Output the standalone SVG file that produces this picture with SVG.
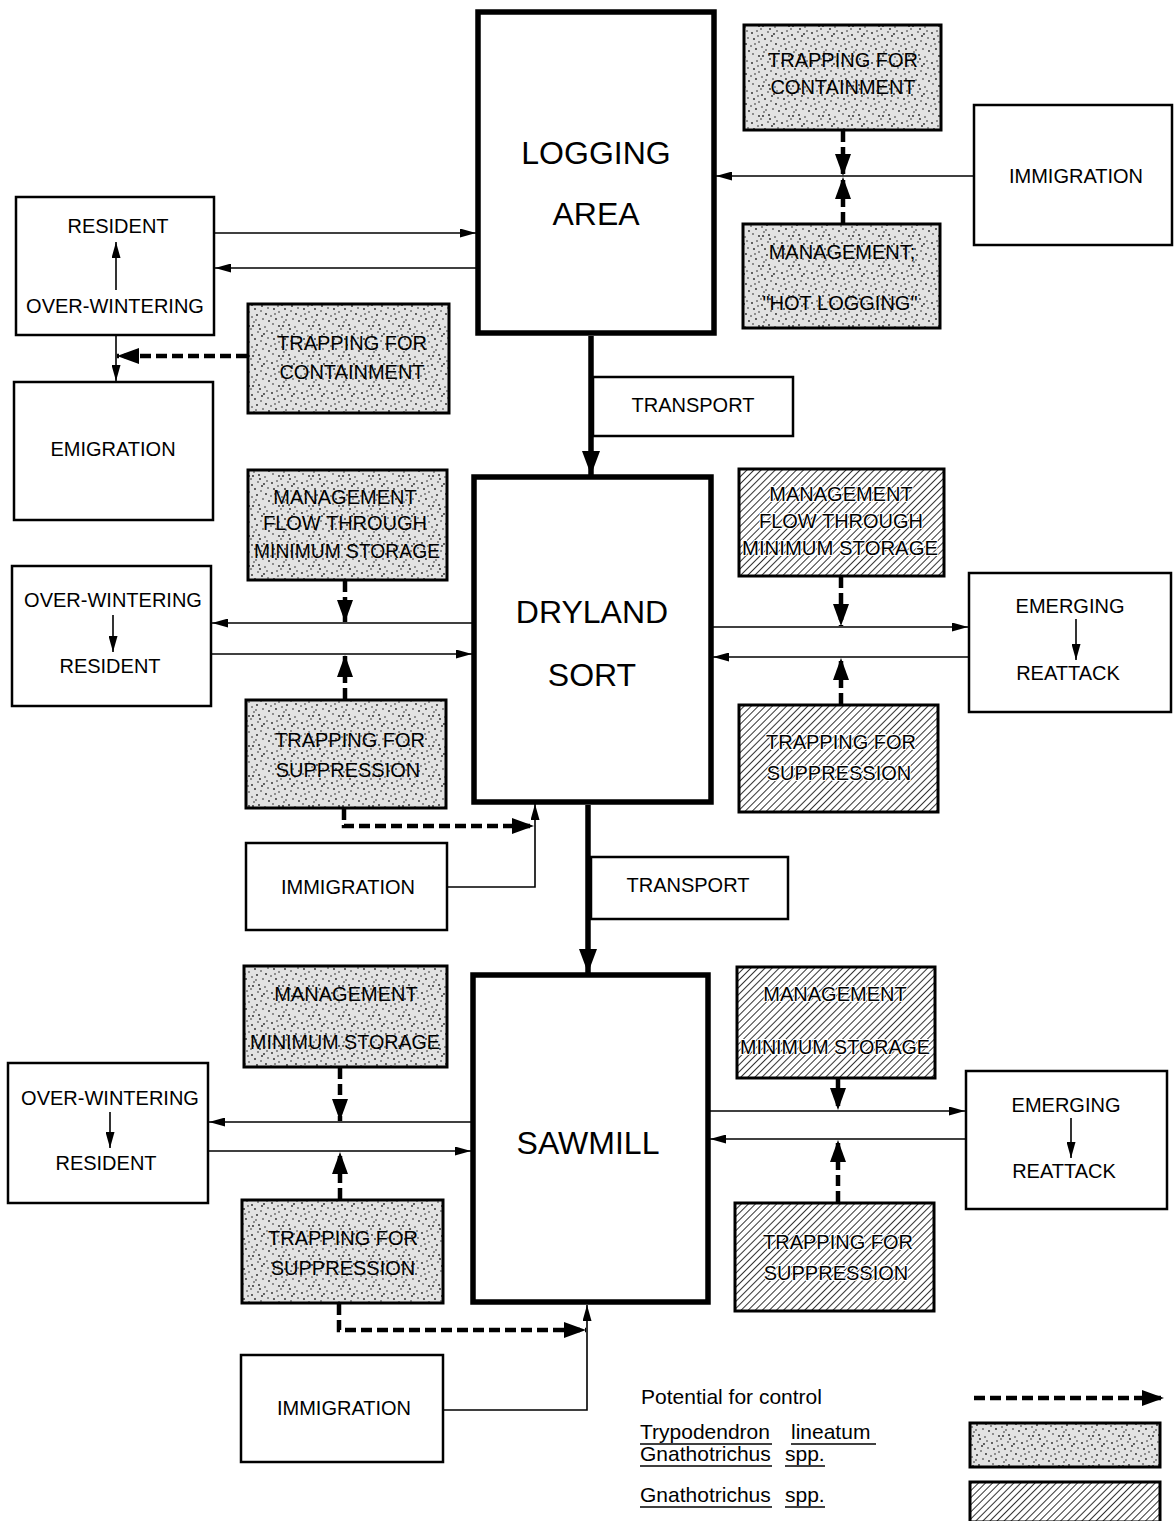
<svg xmlns="http://www.w3.org/2000/svg" width="1176" height="1521" viewBox="0 0 1176 1521">
<style>
.box{fill:#fff;stroke:#000;stroke-width:2.5}
.main{fill:#fff;stroke:#000;stroke-width:5.5}
.stip{fill:url(#stipple);stroke:#000;stroke-width:3}
.hatch{fill:url(#hatch);stroke:#000;stroke-width:3}
.t{font-family:"Liberation Sans",Arial,sans-serif;font-size:20px;fill:#000;text-anchor:middle}
.h{stroke:#fff;stroke-width:2;paint-order:stroke;stroke-linejoin:round}
.big{font-family:"Liberation Sans",Arial,sans-serif;font-size:32px;fill:#000;text-anchor:middle}
.leg{font-family:"Liberation Sans",Arial,sans-serif;font-size:21px;fill:#000}
.thin{stroke:#000;stroke-width:1.6;fill:none}
.dash{stroke:#000;stroke-width:4.5;fill:none;stroke-dasharray:11 5}
.thick{stroke:#000;stroke-width:5.5;fill:none}
.ul{stroke:#000;stroke-width:1.6}
</style>
<defs>
<pattern id="stipple" patternUnits="userSpaceOnUse" width="30" height="30">
<rect width="30" height="30" fill="#e2e2e2"/>
<g fill="#222">
<circle cx="2" cy="3" r="0.9"/><circle cx="7" cy="1" r="0.8"/><circle cx="12" cy="5" r="0.9"/><circle cx="18" cy="2" r="0.8"/>
<circle cx="24" cy="4" r="0.9"/><circle cx="28" cy="8" r="0.8"/><circle cx="4" cy="9" r="0.9"/><circle cx="9" cy="12" r="0.8"/>
<circle cx="15" cy="9" r="0.9"/><circle cx="21" cy="11" r="0.8"/><circle cx="26" cy="14" r="0.9"/><circle cx="1" cy="16" r="0.8"/>
<circle cx="6" cy="19" r="0.9"/><circle cx="12" cy="17" r="0.8"/><circle cx="17" cy="15" r="0.9"/><circle cx="23" cy="19" r="0.8"/>
<circle cx="29" cy="21" r="0.9"/><circle cx="3" cy="24" r="0.8"/><circle cx="9" cy="26" r="0.9"/><circle cx="14" cy="22" r="0.8"/>
<circle cx="19" cy="25" r="0.9"/><circle cx="25" cy="27" r="0.8"/><circle cx="27" cy="1" r="0.8"/><circle cx="11" cy="29" r="0.8"/>
<circle cx="20" cy="29" r="0.9"/><circle cx="5" cy="14" r="0.8"/><circle cx="16" cy="20" r="0.8"/><circle cx="22" cy="6" r="0.9"/>
<circle cx="8" cy="6" r="0.8"/><circle cx="13" cy="26" r="0.9"/>
</g>
</pattern>
<pattern id="hatch" patternUnits="userSpaceOnUse" width="5" height="5" patternTransform="rotate(45)">
<rect width="5" height="5" fill="#fff"/>
<line x1="0" y1="0" x2="0" y2="5" stroke="#000" stroke-width="1.6"/>
</pattern>
<marker id="a" markerUnits="userSpaceOnUse" markerWidth="16" markerHeight="9" refX="16" refY="4.5" orient="auto">
<path d="M0,0 L16,4.5 L0,9 z" fill="#000"/>
</marker>
<marker id="d" markerUnits="userSpaceOnUse" markerWidth="22" markerHeight="16" refX="22" refY="8" orient="auto">
<path d="M0,0 L22,8 L0,16 z" fill="#000"/>
</marker>
<marker id="k" markerUnits="userSpaceOnUse" markerWidth="24" markerHeight="18" refX="24" refY="9" orient="auto">
<path d="M0,0 L24,9 L0,18 z" fill="#000"/>
</marker>
</defs>
<rect width="1176" height="1521" fill="#fff"/>

<g id="connectors">
<line class="thin" x1="974" y1="176" x2="716" y2="176" marker-end="url(#a)"/>
<line class="dash" x1="843" y1="131" x2="843" y2="176" marker-end="url(#d)"/>
<line class="dash" x1="843" y1="223" x2="843" y2="177" marker-end="url(#d)"/>
<line class="thin" x1="215" y1="233" x2="476" y2="233" marker-end="url(#a)"/>
<line class="thin" x1="476" y1="268" x2="215" y2="268" marker-end="url(#a)"/>
<line class="thin" x1="116" y1="336" x2="116" y2="381" marker-end="url(#a)"/>
<line class="dash" x1="247" y1="356" x2="117" y2="356" marker-end="url(#d)"/>
<line class="thick" x1="591" y1="336" x2="591" y2="475" marker-end="url(#k)"/>

<line class="thin" x1="472" y1="623" x2="212" y2="623" marker-end="url(#a)"/>
<line class="thin" x1="212" y1="654" x2="472" y2="654" marker-end="url(#a)"/>
<line class="dash" x1="345" y1="581" x2="345" y2="622" marker-end="url(#d)"/>
<line class="dash" x1="345" y1="699" x2="345" y2="655" marker-end="url(#d)"/>
<path class="dash" d="M344,809 V826 H534" marker-end="url(#d)"/>
<path class="thin" d="M447,887 H535 V804" marker-end="url(#a)"/>
<line class="thin" x1="713" y1="627" x2="968" y2="627" marker-end="url(#a)"/>
<line class="thin" x1="968" y1="657" x2="713" y2="657" marker-end="url(#a)"/>
<line class="dash" x1="841" y1="577" x2="841" y2="626" marker-end="url(#d)"/>
<line class="dash" x1="841" y1="704" x2="841" y2="658" marker-end="url(#d)"/>
<line class="thick" x1="588" y1="805" x2="588" y2="973" marker-end="url(#k)"/>

<line class="thin" x1="471" y1="1122" x2="209" y2="1122" marker-end="url(#a)"/>
<line class="thin" x1="209" y1="1151" x2="471" y2="1151" marker-end="url(#a)"/>
<line class="dash" x1="340" y1="1068" x2="340" y2="1121" marker-end="url(#d)"/>
<line class="dash" x1="340" y1="1199" x2="340" y2="1152" marker-end="url(#d)"/>
<path class="dash" d="M339,1304 V1330 H586" marker-end="url(#d)"/>
<path class="thin" d="M443,1410 H587 V1305" marker-end="url(#a)"/>
<line class="thin" x1="710" y1="1111" x2="965" y2="1111" marker-end="url(#a)"/>
<line class="thin" x1="965" y1="1139" x2="710" y2="1139" marker-end="url(#a)"/>
<line class="dash" x1="838" y1="1079" x2="838" y2="1110" marker-end="url(#d)"/>
<line class="dash" x1="838" y1="1202" x2="838" y2="1140" marker-end="url(#d)"/>
</g>

<g id="logging-area"><rect class="main" x="478" y="12" width="236" height="321"/>
<text class="big" x="596" y="164">LOGGING</text><text class="big" x="596" y="225">AREA</text></g>
<g id="trap-cont-top"><rect class="stip" x="744" y="25" width="197" height="105"/>
<text class="t" x="843" y="67">TRAPPING FOR</text><text class="t" x="843" y="94">CONTAINMENT</text></g>
<g id="mgmt-hot"><rect class="stip" x="743" y="224" width="197" height="104"/>
<text class="t" x="842" y="259">MANAGEMENT;</text><text class="t" x="840" y="310">"HOT LOGGING"</text></g>
<g id="immig-top"><rect class="box" x="974" y="105" width="198" height="140"/>
<text class="t" x="1076" y="183">IMMIGRATION</text></g>
<g id="resident-1"><rect class="box" x="16" y="197" width="198" height="138"/>
<text class="t" x="118" y="233">RESIDENT</text>
<line class="thin" x1="116" y1="290" x2="116" y2="242" marker-end="url(#a)"/>
<text class="t" x="115" y="313">OVER-WINTERING</text></g>
<g id="trap-cont-left"><rect class="stip" x="248" y="304" width="201" height="109"/>
<text class="t" x="352" y="350">TRAPPING FOR</text><text class="t" x="352" y="379">CONTAINMENT</text></g>
<g id="emigration"><rect class="box" x="14" y="382" width="199" height="138"/>
<text class="t" x="113" y="456">EMIGRATION</text></g>
<g id="transport-1"><rect class="box" x="593" y="377" width="200" height="59"/>
<text class="t" x="693" y="412">TRANSPORT</text></g>

<g id="dryland-sort"><rect class="main" x="474" y="477" width="237" height="325"/>
<text class="big" x="592" y="623">DRYLAND</text><text class="big" x="592" y="686">SORT</text></g>
<g id="mgmt-flow-left"><rect class="stip" x="248" y="470" width="199" height="110"/>
<text class="t" x="345" y="504">MANAGEMENT</text><text class="t" x="345" y="530">FLOW THROUGH</text><text class="t" x="347" y="558" textLength="186" lengthAdjust="spacingAndGlyphs">MINIMUM STORAGE</text></g>
<g id="overwinter-2"><rect class="box" x="12" y="566" width="199" height="140"/>
<text class="t" x="113" y="607">OVER-WINTERING</text>
<line class="thin" x1="113" y1="615" x2="113" y2="652" marker-end="url(#a)"/>
<text class="t" x="110" y="673">RESIDENT</text></g>
<g id="trap-supp-left-2"><rect class="stip" x="246" y="700" width="200" height="108"/>
<text class="t" x="350" y="747">TRAPPING FOR</text><text class="t" x="348" y="777">SUPPRESSION</text></g>
<g id="immig-2"><rect class="box" x="246" y="843" width="201" height="87"/>
<text class="t" x="348" y="894">IMMIGRATION</text></g>
<g id="mgmt-flow-right"><rect class="hatch" x="739" y="469" width="205" height="107"/>
<text class="t h" x="841" y="501">MANAGEMENT</text><text class="t h" x="841" y="528">FLOW THROUGH</text><text class="t h" x="840" y="555" textLength="196" lengthAdjust="spacingAndGlyphs">MINIMUM STORAGE</text></g>
<g id="emerging-2"><rect class="box" x="969" y="573" width="202" height="139"/>
<text class="t" x="1070" y="613">EMERGING</text>
<line class="thin" x1="1076" y1="619" x2="1076" y2="660" marker-end="url(#a)"/>
<text class="t" x="1068" y="680">REATTACK</text></g>
<g id="trap-supp-right-2"><rect class="hatch" x="739" y="705" width="199" height="107"/>
<text class="t h" x="841" y="749">TRAPPING FOR</text><text class="t h" x="839" y="780">SUPPRESSION</text></g>
<g id="transport-2"><rect class="box" x="591" y="857" width="197" height="62"/>
<text class="t" x="688" y="892">TRANSPORT</text></g>

<g id="sawmill"><rect class="main" x="473" y="975" width="235" height="327"/>
<text class="big" x="588" y="1154">SAWMILL</text></g>
<g id="mgmt-min-left"><rect class="stip" x="244" y="966" width="203" height="101"/>
<text class="t" x="346" y="1001">MANAGEMENT</text><text class="t" x="345" y="1049" textLength="190" lengthAdjust="spacingAndGlyphs">MINIMUM STORAGE</text></g>
<g id="overwinter-3"><rect class="box" x="8" y="1063" width="200" height="140"/>
<text class="t" x="110" y="1105">OVER-WINTERING</text>
<line class="thin" x1="110" y1="1112" x2="110" y2="1148" marker-end="url(#a)"/>
<text class="t" x="106" y="1170">RESIDENT</text></g>
<g id="trap-supp-left-3"><rect class="stip" x="242" y="1200" width="201" height="103"/>
<text class="t" x="343" y="1245">TRAPPING FOR</text><text class="t" x="343" y="1275">SUPPRESSION</text></g>
<g id="immig-3"><rect class="box" x="241" y="1355" width="202" height="107"/>
<text class="t" x="344" y="1415">IMMIGRATION</text></g>
<g id="mgmt-min-right"><rect class="hatch" x="737" y="967" width="198" height="111"/>
<text class="t h" x="835" y="1001">MANAGEMENT</text><text class="t h" x="835" y="1054" textLength="190" lengthAdjust="spacingAndGlyphs">MINIMUM STORAGE</text></g>
<g id="emerging-3"><rect class="box" x="966" y="1071" width="201" height="138"/>
<text class="t" x="1066" y="1112">EMERGING</text>
<line class="thin" x1="1071" y1="1118" x2="1071" y2="1158" marker-end="url(#a)"/>
<text class="t" x="1064" y="1178">REATTACK</text></g>
<g id="trap-supp-right-3"><rect class="hatch" x="735" y="1203" width="199" height="108"/>
<text class="t h" x="838" y="1249">TRAPPING FOR</text><text class="t h" x="836" y="1280">SUPPRESSION</text></g>

<g id="legend">
<text class="leg" x="641" y="1404" font-size="22">Potential for control</text>
<line class="dash" x1="974" y1="1398" x2="1164" y2="1398" marker-end="url(#d)"/>
<text class="leg" x="640" y="1439">Trypodendron</text>
<text class="leg" x="791" y="1439">lineatum</text>
<line class="ul" x1="640" y1="1444" x2="772" y2="1444"/><line class="ul" x1="791" y1="1444" x2="876" y2="1444"/>
<text class="leg" x="640" y="1461">Gnathotrichus</text>
<text class="leg" x="785" y="1461">spp.</text>
<line class="ul" x1="640" y1="1466" x2="772" y2="1466"/><line class="ul" x1="785" y1="1466" x2="825" y2="1466"/>
<text class="leg" x="640" y="1502">Gnathotrichus</text>
<text class="leg" x="785" y="1502">spp.</text>
<line class="ul" x1="640" y1="1507" x2="772" y2="1507"/><line class="ul" x1="785" y1="1507" x2="825" y2="1507"/>
<rect class="stip" x="970" y="1423" width="190" height="44"/>
<rect class="hatch" x="970" y="1482" width="190" height="40"/>
</g>
</svg>
